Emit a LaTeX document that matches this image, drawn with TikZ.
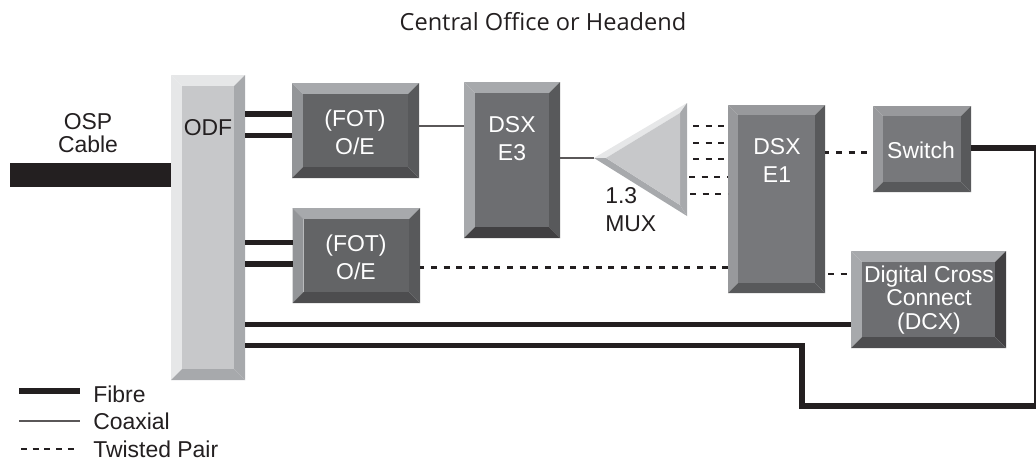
\documentclass[tikz,border=0pt]{standalone}
\usepackage{fontspec}
\setmainfont{Liberation Sans}
\newfontfamily\titlefont{Open Sans}
\usetikzlibrary{fit}
\definecolor{ink}{HTML}{231F20}
\definecolor{lightT}{HTML}{E6E7E8}\definecolor{lightL}{HTML}{E6E7E8}\definecolor{lightR}{HTML}{A7A9AC}\definecolor{lightB}{HTML}{A7A9AC}\definecolor{lightF}{HTML}{C7C8CA}
\definecolor{fotT}{HTML}{A7A9AC}\definecolor{fotL}{HTML}{939598}\definecolor{fotR}{HTML}{58595B}\definecolor{fotB}{HTML}{4D4D4F}\definecolor{fotF}{HTML}{636466}
\definecolor{dsxT}{HTML}{A7A9AC}\definecolor{dsxL}{HTML}{A7A9AC}\definecolor{dsxR}{HTML}{58595B}\definecolor{dsxB}{HTML}{414042}\definecolor{dsxF}{HTML}{6D6E71}
\definecolor{eoneT}{HTML}{98999C}\definecolor{eoneL}{HTML}{98999C}\definecolor{eoneR}{HTML}{58595B}\definecolor{eoneB}{HTML}{58595B}\definecolor{eoneF}{HTML}{77787B}
\definecolor{dcxT}{HTML}{A7A9AC}\definecolor{dcxL}{HTML}{A7A9AC}\definecolor{dcxR}{HTML}{414042}\definecolor{dcxB}{HTML}{4D4D4F}\definecolor{dcxF}{HTML}{6D6E71}
\newcommand{\bbox}[7]{%
  \fill[#7T] (#2,#3) -- (#4,#3) -- ({#4-#6},{#3+#6}) -- ({#2+#6},{#3+#6}) -- cycle;
  \fill[#7L] (#2,#3) -- (#2,#5) -- ({#2+#6},{#5-#6}) -- ({#2+#6},{#3+#6}) -- cycle;
  \fill[#7R] (#4,#3) -- (#4,#5) -- ({#4-#6},{#5-#6}) -- ({#4-#6},{#3+#6}) -- cycle;
  \fill[#7B] (#2,#5) -- (#4,#5) -- ({#4-#6},{#5-#6}) -- ({#2+#6},{#5-#6}) -- cycle;
  \fill[#7F] ({#2+#6},{#3+#6}) rectangle ({#4-#6},{#5-#6});
  \coordinate (#1-a) at (#2,#3);
  \coordinate (#1-b) at (#4,#5);
  \node[fit=(#1-a)(#1-b),inner sep=0pt,outer sep=0pt] (#1) {};
}
\tikzset{
  fibre/.style={draw=ink,line width=3.9pt},
  coax/.style={draw=ink!75,line width=1pt},
  twisted/.style={draw=ink,line width=2pt,dash pattern=on 4.4pt off 5.1pt},
  dark/.style={text=ink,font=\fontsize{17.2}{21}\selectfont,align=center,inner sep=0pt},
  pale/.style={text=white,font=\fontsize{17.2}{21}\selectfont,align=center,inner sep=0pt},
  legend/.style={dark,anchor=west},
}
\begin{document}
\begin{tikzpicture}[x=0.75pt,y=-0.75pt]
\useasboundingbox (0,0) rectangle (1036,461);
% boxes
\bbox{odf}{171}{75}{245}{380}{11}{light}
\bbox{fota}{292}{83}{419}{178}{11}{fot}
\bbox{fotb}{292.5}{208}{420}{303}{11}{fot}
\bbox{dsxa}{464}{82}{560}{238}{11}{dsx}
\bbox{dsxb}{728}{105}{825}{293}{10}{eone}
\bbox{sw}{873}{106}{971}{192}{10}{eone}
\bbox{dcx}{851}{251}{1006}{348}{11}{dcx}
% MUX triangle
\fill[lightT] (594,158) -- (687,103) -- (680,113) -- (606,158) -- cycle;
\fill[lightB] (594,158) -- (687,216) -- (680,205) -- (606,158) -- cycle;
\fill[lightR] (687,103) -- (687,216) -- (680,205) -- (680,113) -- cycle;
\fill[lightF] (606,158) -- (680,113) -- (680,205) -- cycle;
\coordinate (muxtip) at (594,158);
\coordinate (ospend) at (10,175);
% OSP cable
\draw[ink,line width=18pt] (ospend) -- (odf.west |- ospend);
% fibres
\draw[fibre] (odf.east |- 0,114) -- (fota.west |- 0,114);
\draw[fibre] (odf.east |- 0,135.5) -- (fota.west |- 0,135.5);
\draw[fibre] (odf.east |- 0,242.5) -- (fotb.west |- 0,242.5);
\draw[fibre] (odf.east |- 0,264) -- (fotb.west |- 0,264);
\draw[fibre] (odf.east |- 0,324.5) -- (dcx.west |- 0,324.5);
\coordinate (rightend) at (1036.5,406);
\draw[fibre] (odf.east |- 0,345.5) -- (802,345.5) -- (802,406) -- (rightend);
\draw[fibre] (sw.east |- 0,148) -- (1036.5,148) -- (rightend);
% coax
\draw[coax] (fota.east |- 0,126) -- (dsxa.west |- 0,126);
\draw[coax] (dsxa.east |- muxtip) -- (muxtip);
% twisted
\foreach \xx/\yy in {693/126,693/143,693/159,689/177,690/194}
  \draw[twisted] (\xx,\yy) -- (dsxb.west |- 0,\yy);
\draw[twisted,dash phase=1.2pt] (dsxb.east |- 0,152.5) -- (sw.west |- 0,152.5);
\draw[twisted,dash phase=1.2pt] (fotb.east |- 0,267.5) -- (dsxb.west |- 0,267.5);
\draw[twisted,shorten <=2.25pt] (dsxb.east |- 0,274) -- (dcx.west |- 0,274);
% labels
\node[text=ink,font=\titlefont\fontsize{17.7}{21}\selectfont,inner sep=0pt] (title) at (543,22) {Central Office or Headend};
\node[dark,font=\fontsize{17.2}{17.8}\selectfont] (osplabel) at (88,133) {OSP\\Cable};
\node[dark] (odflabel) at (208,128) {ODF};
\node[pale] (fotalabel) at (355,132) {(FOT)\\O/E};
\node[pale] (fotblabel) at (356,257) {(FOT)\\O/E};
\node[pale] (dsxalabel) at (512,139) {DSX\\E3};
\node[pale] (dsxblabel) at (777,160) {DSX\\E1};
\node[pale] (swlabel) at (921,150) {Switch};
\node[pale,font=\fontsize{17.2}{17.5}\selectfont] (dcxlabel) at (929,300) {Digital Cross\\Connect\\(DCX)};
\node[dark,align=left,anchor=west] (muxlabel) at (605,210) {1.3\\MUX};
% legend
\coordinate (la) at (19,391); \coordinate (lb) at (80,391);
\coordinate (lc) at (19,421); \coordinate (ld) at (80,421);
\coordinate (le) at (21,449); \coordinate (lf) at (77,449);
\draw[fibre] (la) -- (lb);
\draw[coax] (lc) -- (ld);
\draw[draw=ink,line width=1.6pt,dash pattern=on 4.4pt off 4.4pt] (le) -- (lf);
\node[legend] (lfibre) at (93,394) {Fibre};
\node[legend] (lcoax) at (93,421) {Coaxial};
\node[legend] (ltwist) at (93,449) {Twisted Pair};
\end{tikzpicture}
\end{document}
